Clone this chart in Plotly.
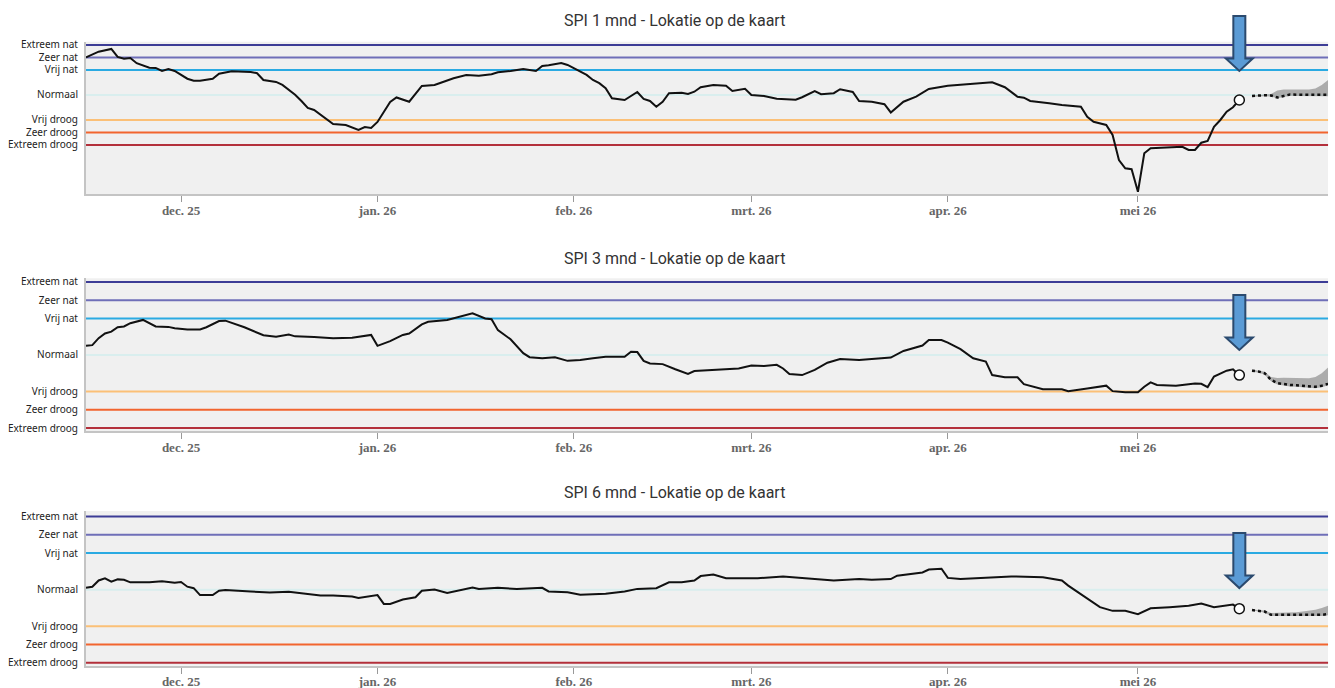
import plotly.graph_objects as go

# ---------------- data ----------------
levels = [2, 1.5, 1, 0, -1, -1.5, -2]
level_labels = ["Extreem nat", "Zeer nat", "Vrij nat", "Normaal", "Vrij droog", "Zeer droog", "Extreem droog"]
level_colors = ["#3d3d96", "#6f6fb8", "#2aaae2", "#d9eeee", "#fbc077", "#f2652f", "#b3303b"]

x_start = "2025-11-16"
x_end = "2026-05-31"
month_ticks = ["2025-12-01", "2026-01-01", "2026-02-01", "2026-03-01", "2026-04-01", "2026-05-01"]
month_labels = ["dec. 25", "jan. 26", "feb. 26", "mrt. 26", "apr. 26", "mei 26"]

titles = ["SPI 1 mnd - Lokatie op de kaart", "SPI 3 mnd - Lokatie op de kaart", "SPI 6 mnd - Lokatie op de kaart"]

spi1_dates = [
    "2025-11-16", "2025-11-18", "2025-11-20", "2025-11-21", "2025-11-22", "2025-11-23", "2025-11-24",
    "2025-11-26", "2025-11-27", "2025-11-28", "2025-11-29", "2025-11-30", "2025-12-02", "2025-12-03",
    "2025-12-04", "2025-12-06", "2025-12-07", "2025-12-09", "2025-12-12", "2025-12-13", "2025-12-14",
    "2025-12-16", "2025-12-17", "2025-12-19", "2025-12-20", "2025-12-21", "2025-12-22", "2025-12-24",
    "2025-12-25", "2025-12-27", "2025-12-28", "2025-12-29", "2025-12-30", "2025-12-31", "2026-01-01",
    "2026-01-02", "2026-01-03", "2026-01-04", "2026-01-06", "2026-01-08", "2026-01-10", "2026-01-11",
    "2026-01-13", "2026-01-15", "2026-01-17", "2026-01-19", "2026-01-20", "2026-01-22", "2026-01-24",
    "2026-01-26", "2026-01-27", "2026-01-28", "2026-01-30", "2026-01-31", "2026-02-02", "2026-02-03",
    "2026-02-04", "2026-02-05", "2026-02-06", "2026-02-07", "2026-02-09", "2026-02-11", "2026-02-12",
    "2026-02-13", "2026-02-14", "2026-02-15", "2026-02-16", "2026-02-18", "2026-02-19", "2026-02-20",
    "2026-02-21", "2026-02-23", "2026-02-25", "2026-02-26", "2026-02-28", "2026-03-01", "2026-03-03",
    "2026-03-05", "2026-03-08", "2026-03-09", "2026-03-11", "2026-03-12", "2026-03-14", "2026-03-15",
    "2026-03-17", "2026-03-18", "2026-03-20", "2026-03-22", "2026-03-23", "2026-03-25", "2026-03-27",
    "2026-03-29", "2026-04-01", "2026-04-04", "2026-04-08", "2026-04-10", "2026-04-12", "2026-04-13",
    "2026-04-14", "2026-04-17", "2026-04-19", "2026-04-22", "2026-04-23", "2026-04-24", "2026-04-26",
    "2026-04-27", "2026-04-28", "2026-04-29", "2026-04-30", "2026-05-01", "2026-05-02", "2026-05-03",
    "2026-05-05", "2026-05-08", "2026-05-09", "2026-05-10", "2026-05-11", "2026-05-12", "2026-05-13",
    "2026-05-14", "2026-05-15", "2026-05-16", "2026-05-17",
]
spi1_values = [
    1.5, 1.73, 1.84, 1.52, 1.45, 1.48, 1.27,
    1.09, 1.08, 0.96, 1.04, 0.96, 0.65, 0.57,
    0.57, 0.65, 0.85, 0.95, 0.92, 0.87, 0.6,
    0.52, 0.4, 0.01, -0.24, -0.52, -0.6, -0.96,
    -1.16, -1.2, -1.31, -1.4, -1.28, -1.32, -1.08,
    -0.68, -0.28, -0.1, -0.27, 0.36, 0.4, 0.49,
    0.67, 0.8, 0.77, 0.83, 0.91, 0.96, 1.04,
    0.96, 1.16, 1.19, 1.28, 1.2, 0.93, 0.8,
    0.6, 0.47, 0.27, -0.13, -0.2, 0.12, -0.16,
    -0.24, -0.47, -0.27, 0.07, 0.09, 0.04, 0.13,
    0.31, 0.4, 0.37, 0.16, 0.25, 0.0, -0.04,
    -0.15, -0.19, -0.09, 0.15, 0.03, 0.07, 0.23,
    0.12, -0.24, -0.27, -0.37, -0.7, -0.27, -0.07,
    0.24, 0.37, 0.43, 0.51, 0.31, -0.07, -0.11,
    -0.24, -0.33, -0.4, -0.47, -0.87, -1.07, -1.2,
    -1.6, -2.6, -2.93, -2.97, -3.87, -2.33, -2.13,
    -2.11, -2.07, -2.2, -2.2, -1.91, -1.84, -1.27,
    -1.0, -0.67, -0.49, -0.2,
]

spi3_dates = [
    "2025-11-16", "2025-11-17", "2025-11-18", "2025-11-19", "2025-11-20", "2025-11-21", "2025-11-22",
    "2025-11-23", "2025-11-25", "2025-11-26", "2025-11-27", "2025-11-29", "2025-11-30", "2025-12-02",
    "2025-12-04", "2025-12-05", "2025-12-07", "2025-12-08", "2025-12-09", "2025-12-10", "2025-12-11",
    "2025-12-14", "2025-12-16", "2025-12-18", "2025-12-19", "2025-12-22", "2025-12-25", "2025-12-28",
    "2025-12-31", "2026-01-01", "2026-01-03", "2026-01-05", "2026-01-06", "2026-01-08", "2026-01-09",
    "2026-01-12", "2026-01-14", "2026-01-16", "2026-01-18", "2026-01-19", "2026-01-20", "2026-01-22",
    "2026-01-24", "2026-01-25", "2026-01-27", "2026-01-29", "2026-01-31", "2026-02-02", "2026-02-04",
    "2026-02-06", "2026-02-09", "2026-02-10", "2026-02-11", "2026-02-12", "2026-02-13", "2026-02-15",
    "2026-02-17", "2026-02-19", "2026-02-20", "2026-02-24", "2026-02-27", "2026-03-01", "2026-03-03",
    "2026-03-05", "2026-03-06", "2026-03-07", "2026-03-09", "2026-03-11", "2026-03-13", "2026-03-15",
    "2026-03-18", "2026-03-23", "2026-03-25", "2026-03-28", "2026-03-29", "2026-03-31", "2026-04-01",
    "2026-04-03", "2026-04-05", "2026-04-07", "2026-04-08", "2026-04-10", "2026-04-12", "2026-04-13",
    "2026-04-16", "2026-04-19", "2026-04-20", "2026-04-23", "2026-04-26", "2026-04-27", "2026-04-29",
    "2026-05-01", "2026-05-02", "2026-05-03", "2026-05-04", "2026-05-07", "2026-05-10", "2026-05-11",
    "2026-05-12", "2026-05-13", "2026-05-15", "2026-05-16", "2026-05-17",
]
spi3_values = [
    0.25, 0.27, 0.46, 0.59, 0.64, 0.76, 0.78,
    0.87, 0.96, 0.87, 0.78, 0.77, 0.73, 0.7,
    0.7, 0.76, 0.93, 0.94, 0.88, 0.8, 0.76,
    0.54, 0.5, 0.56, 0.51, 0.49, 0.46, 0.47,
    0.55, 0.25, 0.38, 0.55, 0.59, 0.84, 0.91,
    0.96, 1.05, 1.14, 1.0, 0.98, 0.68, 0.43,
    0.05, -0.06, -0.09, -0.06, -0.16, -0.14, -0.09,
    -0.05, -0.05, 0.09, 0.08, -0.16, -0.23, -0.25,
    -0.39, -0.52, -0.44, -0.39, -0.37, -0.29, -0.3,
    -0.27, -0.37, -0.52, -0.55, -0.41, -0.21, -0.11,
    -0.14, -0.07, 0.11, 0.26, 0.41, 0.41, 0.34,
    0.16, -0.09, -0.18, -0.55, -0.61, -0.61, -0.8,
    -0.94, -0.94, -0.99, -0.92, -0.84, -0.99, -1.02,
    -1.02, -0.87, -0.75, -0.82, -0.84, -0.78, -0.79,
    -0.88, -0.59, -0.43, -0.39, -0.55,
]

spi6_dates = [
    "2025-11-16", "2025-11-17", "2025-11-18", "2025-11-19", "2025-11-20", "2025-11-21", "2025-11-22",
    "2025-11-23", "2025-11-26", "2025-11-28", "2025-11-30", "2025-12-01", "2025-12-02", "2025-12-03",
    "2025-12-04", "2025-12-06", "2025-12-07", "2025-12-08", "2025-12-12", "2025-12-15", "2025-12-18",
    "2025-12-20", "2025-12-23", "2025-12-25", "2025-12-28", "2025-12-29", "2025-12-31", "2026-01-01",
    "2026-01-02", "2026-01-03", "2026-01-05", "2026-01-07", "2026-01-08", "2026-01-10", "2026-01-12",
    "2026-01-14", "2026-01-16", "2026-01-17", "2026-01-20", "2026-01-23", "2026-01-27", "2026-01-28",
    "2026-01-31", "2026-02-02", "2026-02-06", "2026-02-09", "2026-02-11", "2026-02-14", "2026-02-16",
    "2026-02-18", "2026-02-20", "2026-02-21", "2026-02-23", "2026-02-25", "2026-03-02", "2026-03-06",
    "2026-03-10", "2026-03-14", "2026-03-18", "2026-03-20", "2026-03-23", "2026-03-24", "2026-03-28",
    "2026-03-29", "2026-03-31", "2026-04-01", "2026-04-03", "2026-04-08", "2026-04-11", "2026-04-16",
    "2026-04-19", "2026-04-20", "2026-04-22", "2026-04-23", "2026-04-25", "2026-04-27", "2026-04-29",
    "2026-05-01", "2026-05-03", "2026-05-06", "2026-05-09", "2026-05-11", "2026-05-13", "2026-05-16",
    "2026-05-17",
]
spi6_values = [
    0.05, 0.08, 0.25, 0.31, 0.22, 0.28, 0.27,
    0.2, 0.2, 0.23, 0.19, 0.21, 0.08, 0.04,
    -0.15, -0.15, -0.03, -0.01, -0.05, -0.08, -0.06,
    -0.1, -0.16, -0.16, -0.19, -0.23, -0.17, -0.15,
    -0.39, -0.39, -0.27, -0.21, -0.03, 0.0, -0.09,
    -0.01, 0.06, 0.02, 0.05, 0.02, 0.05, -0.05,
    -0.07, -0.14, -0.11, -0.05, 0.02, 0.04, 0.2,
    0.2, 0.25, 0.37, 0.41, 0.31, 0.31, 0.36,
    0.31, 0.25, 0.29, 0.27, 0.29, 0.38, 0.47,
    0.55, 0.57, 0.32, 0.29, 0.34, 0.36, 0.34,
    0.25, 0.11, -0.12, -0.25, -0.48, -0.58, -0.58,
    -0.67, -0.51, -0.48, -0.44, -0.38, -0.48, -0.41,
    -0.52,
]

forecast_dates = [
    "2026-05-19", "2026-05-20", "2026-05-21", "2026-05-22", "2026-05-23", "2026-05-24", "2026-05-25",
    "2026-05-26", "2026-05-27", "2026-05-28", "2026-05-29", "2026-05-30", "2026-05-31",
]
spi1_fc_mid = [-0.04, -0.02, -0.01, -0.02, -0.1, -0.04, 0.02, 0.01, 0.01, 0.0, 0.0, 0.01, 0.01]
spi1_fc_low = [-0.07, -0.05, -0.05, -0.06, -0.13, -0.08, -0.03, -0.04, -0.04, -0.05, -0.05, -0.05, -0.05]
spi1_fc_high = [-0.02, 0.0, 0.02, 0.04, 0.18, 0.22, 0.22, 0.22, 0.22, 0.22, 0.26, 0.4, 0.6]

spi3_fc_mid = [-0.43, -0.45, -0.5, -0.68, -0.77, -0.8, -0.82, -0.83, -0.84, -0.85, -0.87, -0.84, -0.79]
spi3_fc_low = [-0.46, -0.48, -0.54, -0.72, -0.81, -0.84, -0.86, -0.87, -0.88, -0.89, -0.91, -0.88, -0.83]
spi3_fc_high = [-0.4, -0.42, -0.46, -0.6, -0.63, -0.62, -0.62, -0.63, -0.64, -0.64, -0.6, -0.5, -0.34]

spi6_fc_mid = [-0.56, -0.57, -0.6, -0.69, -0.69, -0.69, -0.7, -0.7, -0.71, -0.71, -0.7, -0.69, -0.67]
spi6_fc_low = [-0.58, -0.59, -0.63, -0.72, -0.72, -0.72, -0.73, -0.73, -0.74, -0.74, -0.73, -0.72, -0.7]
spi6_fc_high = [-0.54, -0.55, -0.57, -0.64, -0.64, -0.64, -0.63, -0.62, -0.6, -0.58, -0.55, -0.5, -0.44]

# ---------------- layout helpers ----------------
panels = [
    dict(dates=spi1_dates, vals=spi1_values, fmid=spi1_fc_mid, flo=spi1_fc_low, fhi=spi1_fc_high,
         yrange=[-3.96, 2.13], domain=[0.7180, 0.9394], arrow_tip=0.8968, title_y=0.9695),
    dict(dates=spi3_dates, vals=spi3_values, fmid=spi3_fc_mid, flo=spi3_fc_low, fhi=spi3_fc_high,
         yrange=[-2.08, 2.1], domain=[0.3736, 0.5955], arrow_tip=0.4913, title_y=0.625),
    dict(dates=spi6_dates, vals=spi6_values, fmid=spi6_fc_mid, flo=spi6_fc_low, fhi=spi6_fc_high,
         yrange=[-2.08, 2.15], domain=[0.0324, 0.2573], arrow_tip=0.1453, title_y=0.2835),
]

fig = go.Figure()
shapes = []
annotations = []
layout_axes = {}

arrow_path = "M -6,55 L 6,55 L 6,12.5 L 13.5,12.5 L 0,0 L -13.5,12.5 L -6,12.5 Z"

for i, p in enumerate(panels):
    n = "" if i == 0 else str(i + 1)
    xref = "x" + n
    yref = "y" + n

    # level lines
    for lv, col in zip(levels, level_colors):
        shapes.append(dict(type="line", xref=xref + " domain", yref=yref, x0=0, x1=1, y0=lv, y1=lv,
                           line=dict(color=col, width=2), layer="below"))

    # forecast band
    fig.add_trace(go.Scatter(x=forecast_dates, y=p["flo"], xaxis=xref, yaxis=yref, mode="lines",
                             line=dict(width=0, color="rgba(0,0,0,0)"), hoverinfo="skip", showlegend=False))
    fig.add_trace(go.Scatter(x=forecast_dates, y=p["fhi"], xaxis=xref, yaxis=yref, mode="lines",
                             fill="tonexty", fillcolor="rgba(150,150,150,0.75)",
                             line=dict(width=0, color="rgba(0,0,0,0)"), hoverinfo="skip", showlegend=False))
    # forecast median
    fig.add_trace(go.Scatter(x=forecast_dates, y=p["fmid"], xaxis=xref, yaxis=yref, mode="lines",
                             line=dict(color="#111111", width=2.5, dash="dot"), showlegend=False))
    # observed line
    fig.add_trace(go.Scatter(x=p["dates"], y=p["vals"], xaxis=xref, yaxis=yref, mode="lines",
                             line=dict(color="#111111", width=2), showlegend=False))
    # current point
    fig.add_trace(go.Scatter(x=[p["dates"][-1]], y=[p["vals"][-1]], xaxis=xref, yaxis=yref, mode="markers",
                             marker=dict(size=10, color="white", line=dict(color="#111111", width=1.5)),
                             showlegend=False))

    # arrow pointing at current date
    shapes.append(dict(type="path", xref=xref, yref="paper", xsizemode="pixel", ysizemode="pixel",
                       xanchor=p["dates"][-1], yanchor=p["arrow_tip"], path=arrow_path,
                       fillcolor="#5b9bd5", line=dict(color="#2b4a6e", width=2), layer="above"))

    annotations.append(dict(text=titles[i], xref="paper", yref="paper", x=0.5056, y=p["title_y"],
                            xanchor="center", yanchor="middle", showarrow=False,
                            font=dict(family="Roboto, Arial, sans-serif", size=16, color="#333333")))

    layout_axes["xaxis" + n] = dict(
        type="date", range=[x_start, x_end], domain=[0.0644, 0.9948], anchor=yref,
        tickmode="array", tickvals=month_ticks, ticktext=month_labels,
        ticks="outside", ticklen=6, tickcolor="#999999", tickwidth=1, automargin=False,
        showline=True, linecolor="#c4c4c4", linewidth=2, showgrid=False, zeroline=False,
        ticklabelstandoff=-3,
        tickfont=dict(family="Liberation Serif, Times New Roman, serif", size=13, color="#666666", weight="bold"),
    )
    layout_axes["yaxis" + n] = dict(
        range=p["yrange"], domain=p["domain"], anchor=xref, automargin=False,
        tickmode="array", tickvals=levels, ticktext=level_labels, ticks="",
        showline=True, linecolor="#c4c4c4", linewidth=2, showgrid=False, zeroline=False,
        ticklabelstandoff=4,
        tickfont=dict(family="Noto Sans, Arial, sans-serif", size=10, color="#222222"),
    )

fig.update_layout(
    width=1335, height=688, margin=dict(l=0, r=0, t=0, b=0, autoexpand=False),
    paper_bgcolor="white", plot_bgcolor="#f0f0f0",
    showlegend=False, shapes=shapes, annotations=annotations,
    **layout_axes,
)

fig.write_html("out.html", config={"displayModeBar": False},
               post_script="document.body.style.margin='0';document.body.style.overflow='hidden';")
